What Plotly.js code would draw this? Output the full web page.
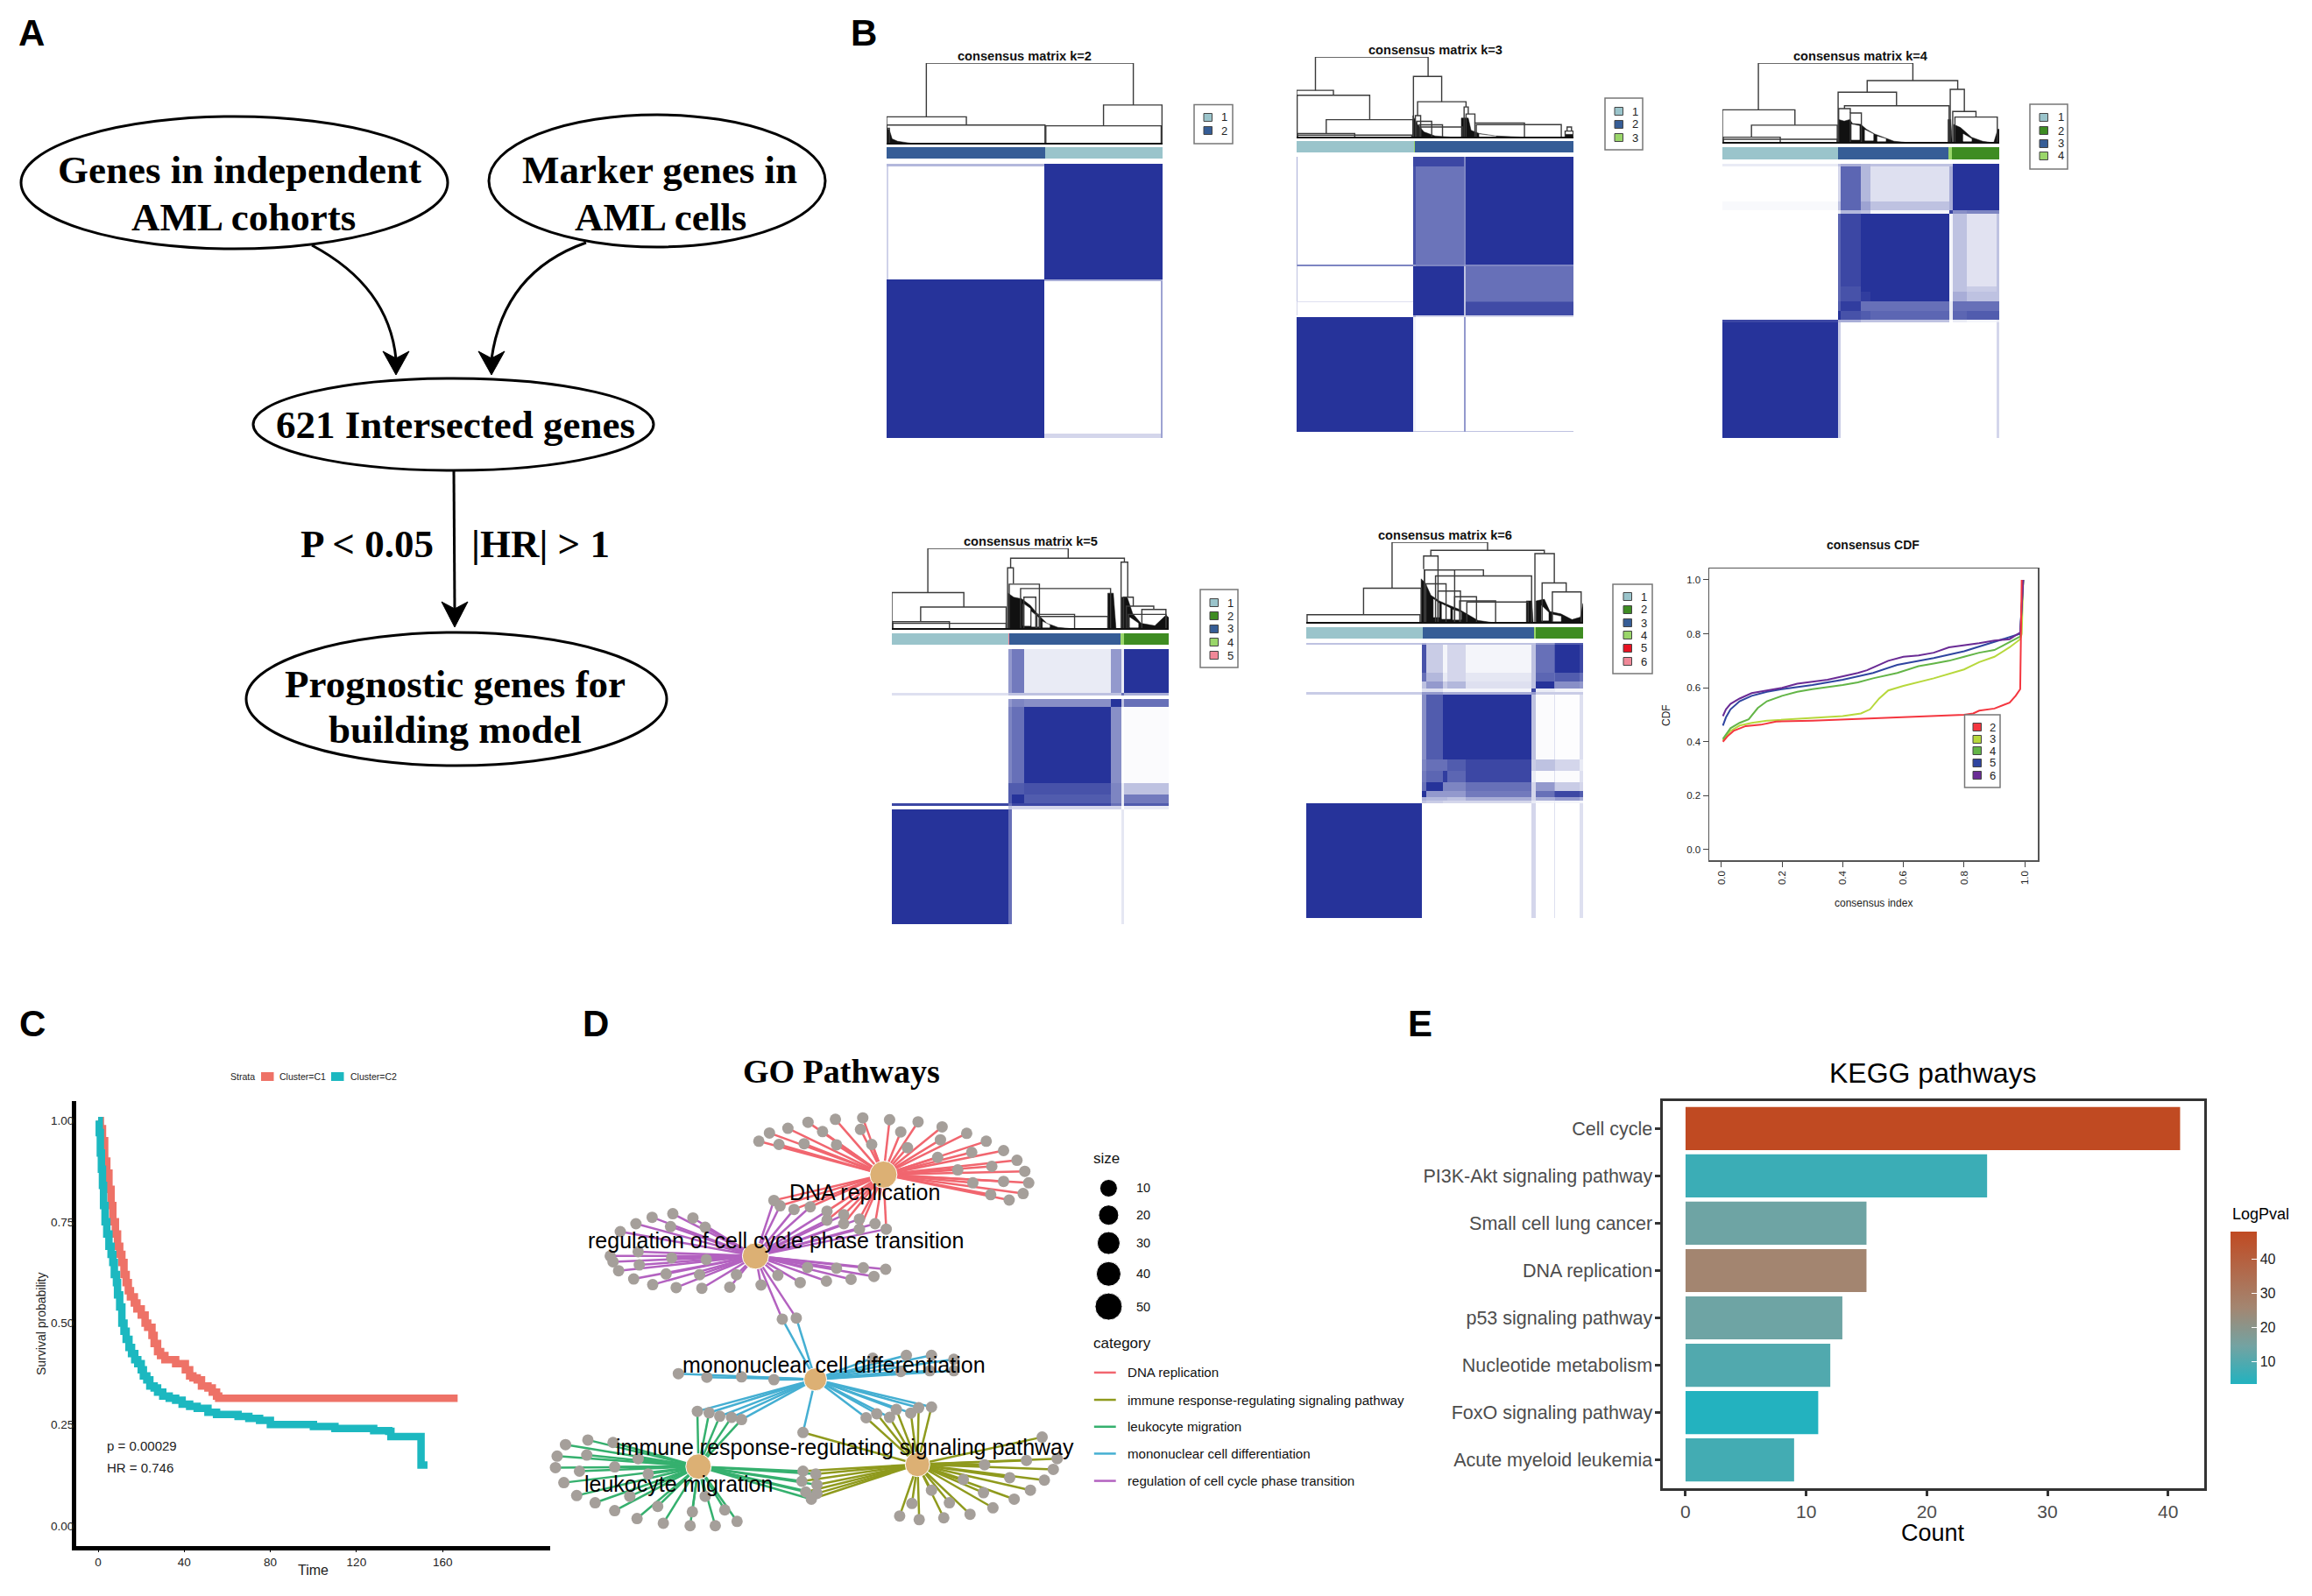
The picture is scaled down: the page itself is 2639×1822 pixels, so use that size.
<!DOCTYPE html>
<html><head><meta charset="utf-8">
<script src="https://cdn.plot.ly/plotly-3.0.1.min.js"></script>
<style>html,body{margin:0;padding:0;background:#fff}#chart{width:2639px;height:1822px}</style>
</head><body><div id="chart"></div>
<script>
const W = 2639, H = 1822;
const SANS = '"Liberation Sans", Arial, sans-serif';
const SERIF = '"Liberation Serif", "Times New Roman", serif';

/* ---------- panel B: cluster colours ---------- */
const clusterColors = ['#9ac4cb', '#3e8c22', '#365d96', '#9ad66a', '#e81221', '#f08898'];
const matrixBlue = '#26339a';

/* k=2 */
const k2Columns = [0, .005, .572, .995, 1];
const k2Rows = [0, .01, .423, .428, .985, 1];
const k2Matrix = [[.35,.35,1,1],[.22,0,1,1],[1,1,.4,.4],[1,1,0,.45],[1,1,.2,.45]];
const k2BarEdges = [0, .574, 1];
const k2BarClass = [3, 1];
const k2Merges = [[14.4,89.4,100,34,48.5],[0,28.9,34,0,24],[0,57.4,24,0,0],[78.6,99.8,48.5,23,0],[57.7,99.5,23,0,0],[0,1,20,0,0]];
const k2Dense = [[[0,20],[1,18],[2,7],[4,4],[7,2.5],[10,1],[10,0],[0,0]]];
const k2Holes = [];

/* k=3 */
const k3Columns = [0, .004, .42, .43, .603, .612, 1];
const k3Rows = [0, .035, .392, .398, .525, .53, .575, .582, .997, 1];
const k3Matrix = [
 [.4,0,.9,.9,.6,1],[.4,0,.85,.68,.6,1],[.5,.6,.5,.6,.5,.6],[.3,0,1,1,.3,.7],[.2,.15,1,1,.3,.8],
 [.2,0,1,1,.3,.88],[0,0,.4,.2,.2,.2],[1,1,.05,0,.5,0],[1,1,.3,.3,.5,.3]];
const k3BarEdges = [0, .425, .428, 1];
const k3BarClass = [1, 4, 3];
const k3Merges = [[6.8,47.5,100,59,76],[0,13.3,59,0,53],[.2,26.4,53,0,23],[10.7,42,23,6,0],[.3,21,6,0,0],[.3,41.6,4,0,0],
 [42.2,52.4,76,0,45],[43.7,61.2,45,28,38.6],[42.9,44.8,28,0,0],[43.4,48.8,21,0,0],[44.3,52.7,16.6,0,0],[44.8,59.9,14,0,0],
 [60.5,62,38.6,0,30],[61.2,64.4,30,0,19],[64.4,82.3,19,0,0],[64.9,95.6,17,0,0],[97.7,99.3,14,9,9],[97,99.9,9,0,0]];
const k3Dense = [[[42,28],[43.5,18],[46,8],[50,3],[58,1],[60,0],[42,0]],[[59.5,25],[62,25],[63,10],[66,6],[72,3],[85,1],[97,.5],[97,0],[59.5,0]],[[97,5],[99.8,5],[99.8,0],[97,0]]];
const k3Holes = [[[66,5],[72,2.5],[72,1],[66,1]]];

/* k=4 */
const k4Columns = [0,.417,.428,.501,.536,.819,.832,.884,.992,1];
const k4Rows = [0,.0085,.138,.168,.183,.446,.468,.5,.537,.569,.579,1];
const k4Matrix = [
 [.1,.3,.4,.35,.3,.3,1,1,1],[0,.2,.75,.35,.15,.4,1,1,1],[.03,.3,.75,.45,.3,.4,1,1,1],[0,.1,.35,.3,.05,.9,.55,.6,.6],
 [0,.75,.9,1,1,.05,.3,.14,.3],[0,.75,.85,1,1,.05,.3,.25,.3],[0,.75,.85,.95,1,.05,.4,.3,.3],[0,.8,.95,.7,.7,.1,.7,.7,.7],
 [0,1,.85,.8,.75,.1,.75,.8,.8],[.9,.4,.4,.3,.3,0,.1,.05,.1],[1,.25,0,0,0,0,0,0,.2]];
const k4BarEdges = [0,.417,.818,.83,1];
const k4BarClass = [1,3,4,2];
const k4Merges = [[13,68.8,100,42,78.3],[0,26.2,42,0,23],[10.5,41.5,23,8,0],[.3,20.9,8,0,0],[.3,41.5,5.4,0,0],
 [52.3,85,78.3,63.8,67.4],[41.8,62.9,63.8,0,47],[44.1,81.9,47,43.5,0],[42,46.2,43.5,0,38],[46.2,50.2,38,0,0],
 [82.3,87.4,67.4,0,40],[83.2,91.6,40,0,33],[84,99.3,33,0,0]];
const k4Dense = [[[42,30],[44,28],[46,30],[47,25],[50,24],[52,18],[55,12],[58,8],[62,3],[68,1],[82,.5],[82,0],[42,0]],[[81.5,30],[82.5,30],[83,0],[81.5,0]],[[83.5,24],[86,20],[90,8],[94,3],[98,1],[99.5,18],[100,18],[100,0],[83.5,0]]];
const k4Holes = [[[46.7,24],[49.5,22],[49.5,5],[46.7,5]],[[51.5,17],[54.5,12],[54.5,4],[51.5,4]],[[56,9],[59,6],[59,3],[56,3]],[[87,12],[90,6],[90,3],[87,3]]];

/* k=5 */
const k5Columns = [0,.422,.434,.477,.79,.83,.838,1];
const k5Rows = [0,.159,.168,.18,.21,.486,.529,.56,.569,.582,1];
const k5Matrix = [
 [0,.5,.65,.1,.5,.1,1],[.15,.3,.3,.3,.3,.7,.4],[0,0,0,0,0,0,0],[0,.5,.6,.55,1,.3,.7],[0,.6,.7,1,.55,0,.02],
 [0,.8,.8,.85,.6,.1,.3],[0,.8,1,.8,.6,.1,.65],[.9,.7,.9,.9,.7,.1,.8],[0,.3,.2,.2,.2,0,.1],[1,.7,0,0,0,.12,0]];
const k5BarEdges = [0,.42,.424,.825,.838,1];
const k5BarClass = [1,6,3,4,2];
const k5Merges = [[13,63.7,100,45.7,87.9],[0,26,45.7,0,27.9],[10.4,41.3,27.9,10,0],[.3,20.8,10,0,0],[.3,41.3,7.9,0,0],
 [42.9,84,87.9,76,83],[41.8,43.9,76,0,57],[42.4,53.3,56,0,0],[46.5,79,50.7,0,0],[47.7,52,40,0,0],[53.5,78,16.4,0,0],[52.4,66,19,0,0],
 [82.8,85.2,83,0,40],[83.7,87.2,40,0,29],[84.7,94.6,29,0,25],[90.3,99,25,0,0],[85.4,99,19,0,0]];
const k5Dense = [[[42,45],[44,40],[47,38],[50,30],[53,18],[56,8],[60,3],[66,1],[66,0],[42,0]],[[78,45],[80,45],[81,0],[78,0]],[[83,40],[85,40],[87,20],[90,8],[95,5],[99,18],[100,15],[100,0],[83,0]]];
const k5Holes = [[[47.5,32],[50,26],[50,5],[47.5,5]],[[50.5,22],[53,15],[53,4],[50.5,4]],[[54.5,10],[57,6],[57,3],[54.5,3]],[[86,15],[89,8],[89,3],[86,3]]];

/* k=6 */
const k6Columns = [0,.418,.432,.493,.51,.575,.814,.828,.896,.9,.988,1];
const k6Rows = [0,.006,.109,.141,.166,.178,.187,.422,.465,.507,.539,.56,.573,.584,1];
const k6Matrix = [
 [.3,.4,.3,.3,.3,.3,.3,.5,.6,.8,.8],[0,.85,.25,.05,.2,.05,.3,.7,.8,1,.9],[0,.7,.35,.1,.2,.12,.3,.75,.7,.8,.7],[0,.3,.5,.25,.35,.15,.3,1,.6,.55,.5],
 [0,.15,.15,.05,.05,.05,.9,.1,.1,.05,.05],[.25,.5,.5,.4,.4,.4,.5,.25,.25,.25,.25],[0,.55,.8,1,1,1,.3,.02,.15,.01,.15],[0,.6,.7,.7,.8,.9,.25,.3,.3,.2,.1],
 [0,.65,.75,.95,.75,.9,.1,.02,.15,.02,.15],[0,.7,1,.6,.6,.7,.2,.5,.4,.25,.2],[0,1,.5,.5,.5,.65,.2,.7,.8,.9,.8],[0,.4,.35,.35,.3,.4,.2,.4,.4,.5,.4],
 [0,.3,.25,.2,.2,.2,.1,.05,.1,.05,.05],[1,0,0,0,0,0,.2,0,.15,0,.15]];
const k6BarEdges = [0,.422,.823,.83,1];
const k6BarClass = [1,3,4,2];
const k6Merges = [[31,65.5,100,43.5,90],[20.7,41.5,43.5,11,0],[.3,41.1,11,0,0],[45,86,90,83,86],[42.4,47.6,83,67,0],[42.7,53.6,66,0,0],
 [42.7,64,66,0,58.6],[46.7,81.4,58.6,0,0],[43.2,50.5,49,0,0],[47.6,55.7,40,0,0],[53.6,61.5,33,0,0],[55.4,68.4,28,0,0],[58,80.2,26.6,0,0],
 [82.6,89.6,86,0,50],[85.2,93.9,50,0,39],[88.9,99.3,39,0,0]];
const k6Dense = [[[41.5,55],[43,50],[45,35],[48,28],[52,22],[55,18],[58,12],[62,4],[68,1],[68,0],[41.5,0]],[[79.5,28],[81.5,28],[82,0],[79.5,0]],[[83,28],[86,30],[88,15],[92,12],[96,5],[99,8],[100,25],[100,0],[83,0]]];
const k6Holes = [[[46,30],[48,25],[48,8],[46,8]],[[49,24],[52,19],[52,6],[49,6]],[[53,17],[56,14],[56,5],[53,5]],[[85,22],[87.5,14],[87.5,4],[85,4]],[[89,11],[92,9],[92,3],[89,3]]];

/* ---------- panel B: CDF ---------- */
const cdf2x = [.005,.02,.04,.08,.13,.18,.3,.5,.7,.8,.83,.85,.9,.93,.95,.97,.985,.99];
const cdf2y = [.4,.42,.44,.458,.463,.475,.478,.487,.495,.5,.505,.515,.523,.535,.545,.57,.595,1];
const cdf3x = [.005,.03,.06,.1,.15,.3,.4,.46,.49,.52,.55,.6,.7,.8,.85,.9,.95,.985,.99,.995];
const cdf3y = [.405,.44,.46,.47,.478,.487,.495,.505,.52,.56,.59,.607,.635,.668,.695,.715,.75,.78,.8,1];
const cdf4x = [.005,.03,.06,.09,.12,.15,.2,.25,.3,.4,.45,.5,.58,.65,.7,.75,.8,.85,.9,.95,.985,.995];
const cdf4y = [.41,.45,.47,.483,.525,.55,.57,.585,.595,.61,.62,.635,.655,.68,.69,.7,.715,.73,.74,.77,.79,1];
const cdf5x = [.005,.015,.03,.06,.1,.15,.2,.3,.4,.5,.58,.7,.8,.9,.985,.995];
const cdf5y = [.46,.49,.52,.55,.57,.585,.595,.61,.63,.655,.685,.71,.735,.77,.8,1];
const cdf6x = [.005,.015,.03,.06,.1,.15,.2,.25,.35,.45,.48,.55,.6,.65,.7,.75,.85,.9,.95,.985,.995];
const cdf6y = [.495,.52,.54,.56,.58,.59,.6,.615,.63,.655,.665,.7,.715,.72,.73,.75,.765,.775,.78,.805,1];
const cdfNames = ['2','3','4','5','6'];
const cdfColors = ['#f4363f','#b7d83c','#63b547','#2f45a0','#6a2b95'];

/* ---------- panel C ---------- */
const c1Time = [0,1,2,3,4,5,6,6.8,8,9,10,11,12,13,14,15,16.8,18,20,21.8,23,25,26,27.6,29,31,33,36,39,40.5,42.5,44,46,48,51,53,55,56,167];
const c1Surv = [1,.98,.95,.90,.87,.83,.79,.75,.72,.69,.67,.65,.62,.60,.58,.565,.55,.535,.52,.50,.49,.47,.45,.43,.42,.41,.41,.40,.40,.385,.37,.365,.36,.345,.34,.33,.32,.315,.315];
const c2Time = [0,.5,1,1.5,2,2.5,3.2,4,5,6,6.8,7.5,8.5,9,10,11,12,13,14.3,15.5,17,18.4,20,21,22.6,24,26,27.6,30,33,36,39,42.5,46,51,55,60,65,70,75,80,90,100,110,120,128,135,136,149.5,150,153];
const c2Surv = [1,.97,.92,.88,.84,.79,.75,.72,.69,.67,.65,.62,.6,.57,.54,.5,.48,.46,.44,.425,.41,.40,.385,.37,.36,.345,.34,.33,.32,.315,.31,.30,.295,.29,.28,.275,.275,.27,.265,.26,.25,.25,.245,.24,.24,.235,.233,.22,.22,.15,.15];
const survTicksX = [0,40,80,120,160];
const survTicksY = [0,.25,.5,.75,1];
const survTicksYText = ['0.00','0.25','0.50','0.75','1.00'];

/* ---------- panel D ---------- */
const hubNames = ['DNA replication','regulation of cell cycle phase transition','mononuclear cell differentiation','immune response-regulating signaling pathway','leukocyte migration'];
const hubColors = ['#f1666f','#b362c0','#45afd2','#8f9a1d','#35b06e'];
const hubDna = [609,393], hubCycle = [380,620], hubMono = [487,964], hubImmune = [670,1201], hubLeuko = [278,1207];
const hubSizes = [31,30,26,28,29];
const leavesDna = [[386,300],[405,277],[422,309],[438,264],[467,307],[474,247],[500,273],[525,310],[523,239],[572,235],[568,267],[588,309],[620,240],[640,274],[652,318],[671,246],[714,260],[711,296],[706,345],[758,278],[767,331],[793,300],[742,380],[803,370],[824,326],[848,353],[862,384],[869,416],[824,412],[769,416],[859,446],[834,464],[801,449]];
const leavesDnaCycle = [[413,465],[424,480],[449,490],[478,483],[508,495],[538,505],[508,520],[566,517],[538,530],[566,545],[594,530],[614,545]];
const leavesCycle = [[138,552],[166,530],[195,512],[232,502],[268,514],[228,538],[290,540],[170,608],[120,620],[125,636],[172,645],[230,625],[292,630],[135,661],[162,684],[220,670],[196,700],[238,708],[284,710],[280,672],[334,707],[346,672],[390,701],[420,674],[460,694],[473,652],[507,690],[525,654],[551,685],[573,653],[592,677],[613,657]];
const leavesCycleMono = [[428,796],[453,793]];
const leavesMono = [[242,948],[293,958],[355,957],[413,965],[590,905],[650,897],[695,897],[735,908],[640,942],[692,940],[735,940]];
const leavesMonoLeuko = [[276,1053],[297,1057],[316,1067],[337,1070],[355,1076]];
const leavesMonoImmune = [[465,1112],[578,1071],[597,1060],[620,1070],[632,1048],[658,1058],[672,1043],[695,1041]];
const leavesLeuko = [[40,1146],[80,1133],[125,1140],[25,1178],[78,1175],[170,1185],[128,1208],[22,1210],[65,1220],[188,1228],[37,1252],[60,1288],[93,1308],[155,1290],[128,1330],[205,1318],[168,1352],[215,1365],[263,1372],[267,1333],[290,1290],[325,1328],[308,1372],[347,1360]];
const leavesLeukoImmune = [[465,1220],[488,1228],[463,1248],[490,1258],[470,1278],[490,1282],[480,1298]];
const leavesImmune = [[893,1125],[920,1185],[865,1190],[790,1202],[913,1215],[835,1238],[752,1243],[897,1245],[872,1273],[788,1280],[843,1298],[695,1273],[805,1322],[727,1308],[764,1340],[660,1310],[717,1350],[673,1355],[638,1345]];
const sizeLegendValues = ['10','20','30','40','50'];
const sizeLegendMarks = [20,23,26,28,31];
const sizeLegendRows = [431,506,584,670,761];
const categoryRows = [945,1021,1096,1171,1247];
const categoryOrder = [0,3,4,2,1];

/* ---------- panel E ---------- */
const keggNames = ['Cell cycle','PI3K-Akt signaling pathway','Small cell lung cancer','DNA replication','p53 signaling pathway','Nucleotide metabolism','FoxO signaling pathway','Acute myeloid leukemia'];
const keggCount = [41,25,15,15,13,12,11,9];
const keggLogP = [48,7,14,26,14,10,3.6,8];
const keggTicks = [0,10,20,30,40];
const logPTicks = [10,20,30,40];

/* ---------- panel A ---------- */
const flowNodes = [[24,133,511,284],[558,131,942,282],[289,432,746,537],[281,722,761,874]];
const flowLines = [
 ['Genes in independent',273,194],['AML cohorts',278,248],['Marker genes in',753,194],['AML cells',754,248],
 ['621 Intersected genes',520,485],['Prognostic genes for',519,781],['building model',519,833],['P < 0.05',419,621],['|HR| > 1',617,621]];

/* ---------- helpers ---------- */
const fx = x => x / W, fy = y => 1 - y / H;
const P = (x, y) => fx(x) + ' ' + fy(y);
const traces = [], annotations = [], shapes = [];
const layout = {width: W, height: H, margin: {l:0,r:0,t:0,b:0}, paper_bgcolor:'#fff', plot_bgcolor:'rgba(0,0,0,0)', showlegend:false, autosize:false, font:{family:SANS,color:'#000'}};
let axisCount = 0;
function axes(x0, x1, y0, y1, xo, yo) {
  axisCount++;
  const id = axisCount === 1 ? '' : axisCount;
  layout['xaxis' + id] = Object.assign({domain:[fx(x0),fx(x1)], anchor:'y'+id, visible:false, fixedrange:true}, xo);
  layout['yaxis' + id] = Object.assign({domain:[fy(y1),fy(y0)], anchor:'x'+id, visible:false, fixedrange:true}, yo);
  return {xaxis:'x'+id, yaxis:'y'+id};
}
function note(text, x, y, size, o) {
  annotations.push(Object.assign({text, x:fx(x), y:fy(y), xref:'paper', yref:'paper', showarrow:false, xanchor:'center', yanchor:'middle', font:Object.assign({size, family:SANS, color:'#000'}, (o||{}).font)}, o && {xanchor:o.xanchor||'center', textangle:o.textangle||0}));
}
function legendBox(box, sx, labelX, rows, classes, colors) {
  shapes.push({type:'rect', xref:'paper', yref:'paper', x0:fx(box[0]), x1:fx(box[1]), y0:fy(box[2]), y1:fy(box[3]), line:{color:'#777',width:1.5}, fillcolor:'#fff'});
  rows.forEach((r,i)=>{
    shapes.push({type:'rect', xref:'paper', yref:'paper', x0:fx(sx), x1:fx(sx+9.5), y0:fy(r-4.5), y1:fy(r+4.5), line:{color:'#444',width:1}, fillcolor:colors[i]});
    note(String(classes[i]), labelX, r, 13, {font:{color:'#222'}});
  });
}
function polygon(poly, color, a) {
  traces.push(Object.assign({type:'scatter',mode:'lines',x:poly.map(p=>p[0]).concat(poly[0][0]),y:poly.map(p=>p[1]).concat(poly[0][1]),fill:'toself',fillcolor:color,line:{width:.5,color},hoverinfo:'skip'},a));
}
function consensusPanel(k, box, columns, rows, matrix, barEdges, barClass, merges, dense, holes) {
  const [mx0,mx1,my0,my1,by0,by1,dy0,dy1] = box;
  const a1 = axes(mx0,mx1,my0,my1,{range:[0,1]},{range:[1,0]});
  traces.push(Object.assign({type:'heatmap', x:columns, y:rows, z:matrix, zmin:0, zmax:1, colorscale:[[0,'#ffffff'],[1,matrixBlue]], showscale:false, hoverinfo:'skip'}, a1));
  const a2 = axes(mx0,mx1,by0,by1,{range:[0,1]},{range:[0,1]});
  const cs = []; clusterColors.forEach((c,i)=>{cs.push([i/6,c]);cs.push([(i+1)/6,c]);});
  traces.push(Object.assign({type:'heatmap', x:barEdges, y:[0,1], z:[barClass.map(c=>c-.5)], zmin:0, zmax:6, colorscale:cs, showscale:false, hoverinfo:'skip'}, a2));
  const a3 = axes(mx0,mx1,dy0,dy1,{range:[0,100]},{range:[0,100]});
  const lx=[], ly=[];
  merges.forEach(m=>{ lx.push(m[0],m[0],m[1],m[1],null); ly.push(m[3],m[2],m[2],m[4],null); });
  dense.forEach(poly=>polygon(poly,'#111',a3));
  holes.forEach(poly=>polygon(poly,'#fff',a3));
  traces.push(Object.assign({type:'scatter',mode:'lines',x:lx,y:ly,line:{color:'#3a3a3a',width:1.4},hoverinfo:'skip'},a3));
  traces.push(Object.assign({type:'scatter',mode:'lines',x:[0,100],y:[.5,.5],line:{color:'#111',width:3},hoverinfo:'skip'},a3));
  note('consensus matrix k=' + k, (mx0+mx1)/2, dy0-8, 14.6, {font:{family:SANS,color:'#111',weight:700}});
}

/* ---------- Panel labels ---------- */
[['A',36,38],['B',986,38],['C',37,1168],['D',680,1168],['E',1621,1168]].forEach(l=>note(l[0],l[1],l[2],42,{font:{family:SANS,weight:700,color:'#000'}}));

/* ---------- Panel A ---------- */
flowNodes.forEach(n=>shapes.push({type:'circle',xref:'paper',yref:'paper',x0:fx(n[0]),x1:fx(n[2]),y0:fy(n[1]),y1:fy(n[3]),line:{color:'#000',width:3},fillcolor:'#fff'}));
flowLines.forEach(t=>note(t[0],t[1],t[2],45,{font:{family:SERIF,weight:700,color:'#000'}}));
[
 `M ${P(356,280)} Q ${P(444,327)} ${P(452,410)}`,
 `M ${P(669,277)} Q ${P(575,310)} ${P(561,410)}`,
 `M ${P(518,538)} L ${P(519,697)}`
].forEach(d=>shapes.push({type:'path',xref:'paper',yref:'paper',path:d,line:{color:'#000',width:3}}));
[[452,428,401],[561,428,401],[519,716,687]].forEach(h=>{
  shapes.push({type:'path',xref:'paper',yref:'paper',fillcolor:'#000',line:{color:'#000',width:1},
    path:`M ${P(h[0],h[1])} L ${P(h[0]-15,h[2])} L ${P(h[0],h[2]+8)} L ${P(h[0]+15,h[2])} Z`});
});

/* ---------- Panel B ---------- */
consensusPanel(2,[1012,1327,187,500,168,181,72,165],k2Columns,k2Rows,k2Matrix,k2BarEdges,k2BarClass,k2Merges,k2Dense,k2Holes);
consensusPanel(3,[1480,1796,179,493,161,174,65,158],k3Columns,k3Rows,k3Matrix,k3BarEdges,k3BarClass,k3Merges,k3Dense,k3Holes);
consensusPanel(4,[1966,2282,187,500,168,182,72,164],k4Columns,k4Rows,k4Matrix,k4BarEdges,k4BarClass,k4Merges,k4Dense,k4Holes);
consensusPanel(5,[1018,1334,741,1055,723,736,626,719],k5Columns,k5Rows,k5Matrix,k5BarEdges,k5BarClass,k5Merges,k5Dense,k5Holes);
consensusPanel(6,[1491,1807,734,1048,716,729,619,712],k6Columns,k6Rows,k6Matrix,k6BarEdges,k6BarClass,k6Merges,k6Dense,k6Holes);
legendBox([1363,1407,119.5,164],1374,1397,[134,149],[1,2],[clusterColors[0],clusterColors[2]]);
legendBox([1832,1875,112,171],1843,1866,[127,142,157],[1,2,3],[clusterColors[0],clusterColors[2],clusterColors[3]]);
legendBox([2317,2360,119,193],2328,2352,[134,149,164,178],[1,2,3,4],clusterColors.slice(0,4));
legendBox([1370,1413,673,762],1381,1404,[688,703,718,733,748],[1,2,3,4,5],[clusterColors[0],clusterColors[1],clusterColors[2],clusterColors[3],clusterColors[5]]);
legendBox([1841,1886,667,769],1853,1876,[681,696,711,725,740,755],[1,2,3,4,5,6],clusterColors);

/* CDF */
const aCdf = axes(1951,2326,649,982,
 {visible:true,range:[-.04,1.043],tickvals:[0,.2,.4,.6,.8,1],ticktext:['0.0','0.2','0.4','0.6','0.8','1.0'],tickangle:-90,ticks:'outside',ticklen:6,tickcolor:'#444',showline:true,mirror:true,linecolor:'#555',linewidth:1.5,zeroline:false,showgrid:false,tickfont:{size:11.5,color:'#222'}},
 {visible:true,range:[-.039,1.042],tickvals:[0,.2,.4,.6,.8,1],ticktext:['0.0','0.2','0.4','0.6','0.8','1.0'],ticks:'outside',ticklen:6,tickcolor:'#444',showline:true,mirror:true,linecolor:'#555',linewidth:1.5,zeroline:false,showgrid:false,tickfont:{size:11.5,color:'#222'}});
[[cdf3x,cdf3y,1],[cdf4x,cdf4y,2],[cdf5x,cdf5y,3],[cdf6x,cdf6y,4],[cdf2x,cdf2y,0]].forEach(s=>traces.push(Object.assign({type:'scatter',mode:'lines',name:cdfNames[s[2]],x:s[0],y:s[1],line:{color:cdfColors[s[2]],width:2}},aCdf)));
note('consensus CDF',2138,622,14,{font:{weight:700,color:'#111'}});
note('consensus index',2138,1031,12,{font:{color:'#222'}});
note('CDF',1902,817,12,{textangle:-90,font:{color:'#222'}});
legendBox([2242.5,2283,816,899],2252,2274,[830,844,857,871,885],cdfNames,cdfColors);

/* ---------- Panel C ---------- */
const aSurv = axes(87,628,1257,1765,
 {visible:true,range:[-10.2,210],tickvals:survTicksX,ticks:'outside',ticklen:2,tickcolor:'#000',showline:true,linecolor:'#000',linewidth:5,zeroline:false,showgrid:false,tickfont:{size:13.5,color:'#222'}},
 {visible:true,range:[-.05,1.048],tickvals:survTicksY,ticktext:survTicksYText,ticks:'outside',ticklen:0,ticklabelstandoff:-5,showline:true,linecolor:'#000',linewidth:5,zeroline:false,showgrid:false,tickfont:{size:13.5,color:'#222'}});
traces.push(Object.assign({type:'scatter',mode:'lines',name:'Cluster=C1',x:c1Time,y:c1Surv,line:{color:'#ee7267',width:8.5,shape:'hv'}},aSurv));
traces.push(Object.assign({type:'scatter',mode:'lines',name:'Cluster=C2',x:c2Time,y:c2Surv,line:{color:'#1cb8c0',width:8.5,shape:'hv'}},aSurv));
note('p = 0.00029',120,1650,15,{xanchor:'left',font:{color:'#222'}});
note('HR = 0.746',120,1675,15,{xanchor:'left',font:{color:'#222'}});
note('Survival probability',47,1511,14,{textangle:-90,font:{color:'#222'}});
note('Time',357,1792,16,{font:{color:'#222'}});
note('Strata',277,1229,10.5,{font:{color:'#222'}});
note('Cluster=C1',345,1229,10.5,{font:{color:'#222'}});
note('Cluster=C2',426,1229,10.5,{font:{color:'#222'}});
[[298,'#ee7267'],[378,'#1cb8c0']].forEach(s=>shapes.push({type:'rect',xref:'paper',yref:'paper',x0:fx(s[0]),x1:fx(s[0]+14.5),y0:fy(1224),y1:fy(1234),line:{width:0},fillcolor:s[1]}));

/* ---------- Panel D ---------- */
const aNet = axes(620,1620,1180,1822,{range:[0,1568]},{range:[1568,0]});
function edges(hub, leaves, color) {
  const x=[], y=[];
  leaves.forEach(p=>{x.push(hub[0],p[0],null);y.push(hub[1],p[1],null);});
  traces.push(Object.assign({type:'scatter',mode:'lines',x,y,line:{color,width:2.5},hoverinfo:'skip'},aNet));
}
edges(hubDna, leavesDna.concat(leavesDnaCycle), hubColors[0]);
edges(hubCycle, leavesCycle.concat(leavesDnaCycle, leavesCycleMono), hubColors[1]);
edges(hubMono, leavesMono.concat(leavesCycleMono, leavesMonoLeuko, leavesMonoImmune), hubColors[2]);
edges(hubImmune, leavesImmune.concat(leavesLeukoImmune, leavesMonoImmune), hubColors[3]);
edges(hubLeuko, leavesLeuko.concat(leavesLeukoImmune, leavesMonoLeuko), hubColors[4]);
const allLeaves = [].concat(leavesDna,leavesDnaCycle,leavesCycle,leavesCycleMono,leavesMono,leavesMonoLeuko,leavesMonoImmune,leavesLeuko,leavesLeukoImmune,leavesImmune);
traces.push(Object.assign({type:'scatter',mode:'markers',x:allLeaves.map(p=>p[0]),y:allLeaves.map(p=>p[1]),marker:{color:'#a59f9a',size:13,opacity:1},hoverinfo:'skip'},aNet));
const hubs = [hubDna,hubCycle,hubMono,hubImmune,hubLeuko];
traces.push(Object.assign({type:'scatter',mode:'markers',x:hubs.map(p=>p[0]),y:hubs.map(p=>p[1]),text:hubNames,marker:{color:'#dcb074',size:hubSizes,opacity:1},hoverinfo:'text'},aNet));
traces.push(Object.assign({type:'scatter',mode:'markers',x:sizeLegendRows.map(()=>1012),y:sizeLegendRows,marker:{color:'#000',size:sizeLegendMarks,opacity:1},hoverinfo:'skip'},aNet));
categoryRows.forEach((r,i)=>traces.push(Object.assign({type:'scatter',mode:'lines',x:[986,1025],y:[r,r],line:{color:hubColors[categoryOrder[i]],width:2.5},hoverinfo:'skip'},aNet)));
note('GO Pathways',960,1223,38,{font:{family:SERIF,weight:700,color:'#000'}});
[[0,987,1361],[1,885,1416],[2,952,1558],[3,964,1652],[4,774,1694]].forEach(l=>note(hubNames[l[0]],l[1],l[2],25));
note('size',1246,1322,17,{xanchor:'left',font:{color:'#111'}});
note('category',1246,1533,17,{xanchor:'left',font:{color:'#111'}});
sizeLegendValues.forEach((v,i)=>note(v,1295,1180+sizeLegendRows[i]/2.442,14.5,{xanchor:'left',font:{color:'#111'}}));
categoryRows.forEach((r,i)=>note(hubNames[categoryOrder[i]],1285,1180+r/2.442,15.1,{xanchor:'left',font:{color:'#111'}}));

/* ---------- Panel E ---------- */
const aBar = axes(1897.5,2516,1256.5,1698.5,
 {visible:true,range:[-1.92,43],tickvals:keggTicks,ticks:'outside',ticklen:6,tickwidth:3,tickcolor:'#333',showline:true,mirror:true,linecolor:'#333',linewidth:3,zeroline:false,showgrid:false,tickfont:{size:21,color:'#4d4d4d'}},
 {visible:true,type:'category',categoryorder:'array',categoryarray:keggNames,range:[7.59,-.59],ticks:'outside',ticklen:6,tickwidth:3,tickcolor:'#333',ticklabelstandoff:-2,showline:true,mirror:true,linecolor:'#333',linewidth:3,showgrid:false,tickfont:{size:21.5,color:'#4d4d4d'}});
traces.push(Object.assign({type:'bar',orientation:'h',x:keggCount,y:keggNames,width:.91,
  marker:{color:keggLogP,cmin:3.5,cmax:48,colorscale:[[0,'#22b2bf'],[.25,'#73a3a2'],[.5,'#a38671'],[1,'#c04a22']],line:{width:0},showscale:true,
   colorbar:{x:fx(2546),xanchor:'left',y:fy(1580),yanchor:'bottom',len:174,lenmode:'pixels',thickness:30,thicknessmode:'pixels',xpad:0,ypad:0,outlinewidth:0,borderwidth:0,
     tickvals:logPTicks,ticks:'inside',ticklen:6,tickcolor:'#fff',tickwidth:1.5,tickfont:{size:16,color:'#222'}}}},aBar));
note('KEGG pathways',2206,1225,32);
note('Count',2206,1750,27);
note('LogPval',2546,1385.5,18,{xanchor:'left'});

layout.annotations = annotations;
layout.shapes = shapes;
Plotly.newPlot('chart', traces, layout, {staticPlot:true, displayModeBar:false});
</script></body></html>
